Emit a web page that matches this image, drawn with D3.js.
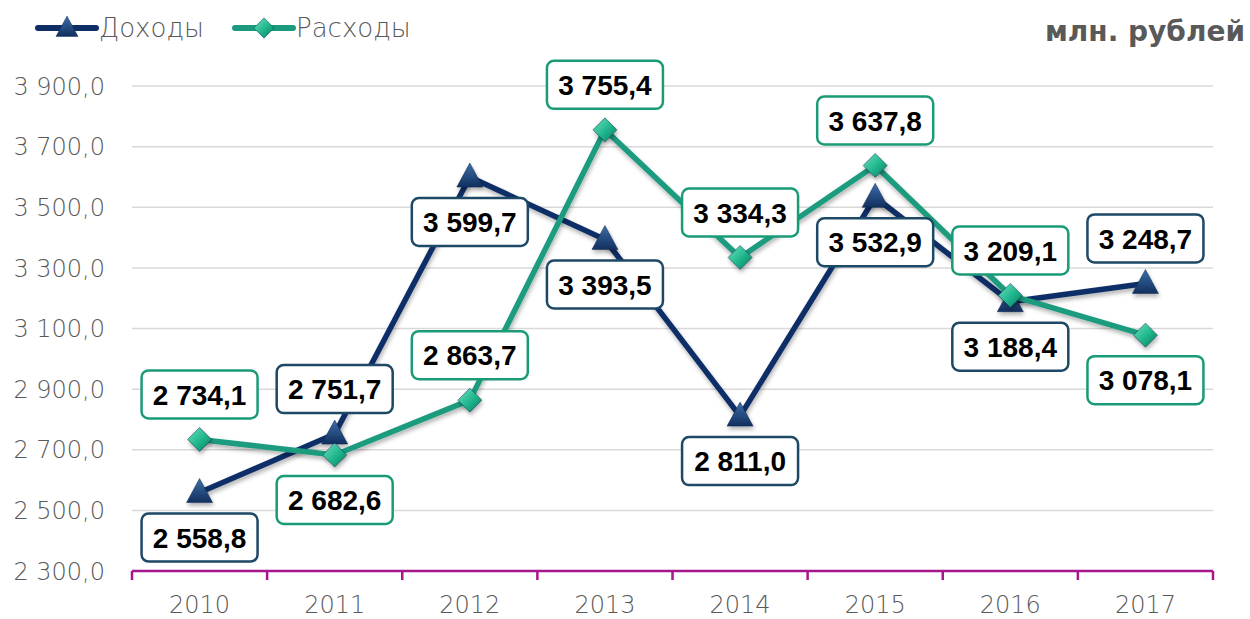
<!DOCTYPE html>
<html>
<head>
  <meta charset="utf-8">
  <title>Доходы и расходы</title>
  <style>
    body { margin: 0; background: #ffffff; }
    .tick-label { fill: #595959; font-family: "DejaVu Sans", sans-serif; font-size: 24px; font-weight: 300; }
    .legend text { fill: #595959; font-family: "DejaVu Sans", sans-serif; font-size: 26px; font-weight: 300; }
    .units { fill: #595959; font-family: "DejaVu Sans", sans-serif; font-size: 28px; font-weight: bold; }
    .lbl text { font-family: "Liberation Sans", Arial, sans-serif; font-size: 28px; font-weight: bold; fill: #000; }
  </style>
</head>
<body>
  <div id="chart"></div>
  <script src="https://d3js.org/d3.v7.min.js"></script>
  <script>
    // data
    var years = ["2010", "2011", "2012", "2013", "2014", "2015", "2016", "2017"]
    var incomes = [2558.8, 2751.7, 3599.7, 3393.5, 2811.0, 3532.9, 3188.4, 3248.7]
    var expenses = [2734.1, 2682.6, 2863.7, 3755.4, 3334.3, 3637.8, 3209.1, 3078.1]
    // label side: 1 = below point, -1 = above
    var incomeSide = [1, -1, 1, 1, 1, 1, 1, -1]
    var expenseSide = [-1, 1, -1, -1, -1, -1, -1, 1]
    var yTicks = [2300, 2500, 2700, 2900, 3100, 3300, 3500, 3700, 3900]

    var width = 1250, height = 619

    var svg = d3.select("#chart").append("svg")
      .attr("width", width)
      .attr("height", height)

    var locale = d3.formatLocale({ decimal: ",", thousands: "\u00a0", grouping: [3], currency: ["", ""] })
    var fmt = locale.format(",.1f")

    var x = d3.scaleBand().domain(years).range([132, 1213]).padding(0)
    var y = d3.scaleLinear().domain([2300, 3900]).range([571, 86])

    var defs = svg.append("defs")

    // marker gradients
    var g1 = defs.append("linearGradient").attr("id", "triGrad")
      .attr("x1", 0).attr("y1", 0).attr("x2", 0).attr("y2", 1)
    g1.append("stop").attr("offset", "0%").attr("stop-color", "#3d6ea8")
    g1.append("stop").attr("offset", "100%").attr("stop-color", "#112f5e")

    var g2 = defs.append("linearGradient").attr("id", "diaGrad")
      .attr("x1", 0).attr("y1", 0).attr("x2", 1).attr("y2", 1)
    g2.append("stop").attr("offset", "0%").attr("stop-color", "#6de3bd")
    g2.append("stop").attr("offset", "55%").attr("stop-color", "#1eb58c")
    g2.append("stop").attr("offset", "100%").attr("stop-color", "#0b7a5c")

    var shadow = defs.append("filter").attr("id", "shadow")
      .attr("x", "-20%").attr("y", "-20%").attr("width", "140%").attr("height", "160%")
    shadow.append("feDropShadow").attr("dx", 1).attr("dy", 3).attr("stdDeviation", 2)
      .attr("flood-color", "#000").attr("flood-opacity", 0.3)

    // gridlines
    svg.append("g").selectAll("line")
      .data(yTicks.slice(1))
      .enter().append("line")
      .attr("x1", 132).attr("x2", 1213)
      .attr("y1", function (d) { return y(d) })
      .attr("y2", function (d) { return y(d) })
      .attr("stroke", "#d9d9d9").attr("stroke-width", 1.5)

    // y labels
    svg.append("g").selectAll("text")
      .data(yTicks)
      .enter().append("text")
      .attr("class", "tick-label")
      .attr("x", 105)
      .attr("y", function (d) { return y(d) })
      .attr("dy", "0.36em")
      .attr("text-anchor", "end")
      .text(function (d) { return fmt(d) })

    // x axis
    var axisColor = "#a7168d"
    svg.append("line")
      .attr("x1", 132).attr("x2", 1213).attr("y1", y(2300)).attr("y2", y(2300))
      .attr("stroke", axisColor).attr("stroke-width", 2.5)

    var edges = years.map(function (d) { return x(d) }).concat([x.range()[1]])
    svg.append("g").selectAll("line")
      .data(edges)
      .enter().append("line")
      .attr("x1", function (d) { return d }).attr("x2", function (d) { return d })
      .attr("y1", y(2300)).attr("y2", y(2300) + 9)
      .attr("stroke", axisColor).attr("stroke-width", 2.5)

    svg.append("g").selectAll("text")
      .data(years)
      .enter().append("text")
      .attr("class", "tick-label")
      .attr("x", function (d) { return x(d) + x.bandwidth() / 2 })
      .attr("y", 613)
      .attr("text-anchor", "middle")
      .text(function (d) { return d })

    var cx = function (d, i) { return x(years[i]) + x.bandwidth() / 2 }

    var line = d3.line()
      .x(function (d, i) { return cx(d, i) })
      .y(function (d) { return y(d) })

    var triPath = "M0,-14L13,10L-13,10Z"
    var diaPath = "M0,-12L12,0L0,12L-12,0Z"

    function drawSeries(values, color, markerPath, fill) {
      svg.append("path")
        .datum(values)
        .attr("d", line)
        .attr("fill", "none")
        .attr("stroke", color)
        .attr("stroke-width", 5.5)
        .attr("stroke-linejoin", "round")
        .attr("filter", "url(#shadow)")

      svg.append("g").selectAll("path")
        .data(values)
        .enter().append("path")
        .attr("d", markerPath)
        .attr("transform", function (d, i) { return "translate(" + cx(d, i) + "," + y(d) + ")" })
        .attr("fill", fill)
        .attr("stroke", "#0b2a50")
        .attr("stroke-opacity", 0.5)
        .attr("stroke-width", 1)
        .attr("filter", "url(#shadow)")
    }

    drawSeries(incomes, "#0e2f66", triPath, "url(#triGrad)")
    drawSeries(expenses, "#1a9b7e", diaPath, "url(#diaGrad)")

    function drawLabels(values, side, border) {
      var lbl = svg.append("g").attr("class", "lbl").selectAll("g")
        .data(values)
        .enter().append("g")
        .attr("transform", function (d, i) {
          return "translate(" + cx(d, i) + "," + (y(d) + side[i] * 45) + ")"
        })
      lbl.append("rect")
        .attr("x", -58).attr("y", -24)
        .attr("width", 116).attr("height", 48)
        .attr("rx", 7)
        .attr("fill", "#fff")
        .attr("stroke", border)
        .attr("stroke-width", 2.5)
      lbl.append("text")
        .attr("text-anchor", "middle")
        .attr("dy", "0.36em")
        .text(function (d) { return fmt(d) })
    }

    drawLabels(incomes, incomeSide, "#1d4866")
    drawLabels(expenses, expenseSide, "#1a9b77")

    // legend
    var legend = svg.append("g").attr("class", "legend")
    var items = [
      { name: "Доходы", color: "#0e2f66", path: triPath, fill: "url(#triGrad)", x: 38 },
      { name: "Расходы", color: "#1a9b7e", path: diaPath, fill: "url(#diaGrad)", x: 235 }
    ]
    var li = legend.selectAll("g").data(items).enter().append("g")
      .attr("transform", function (d) { return "translate(" + d.x + ",28)" })
    li.append("line")
      .attr("x1", 0).attr("x2", 58)
      .attr("stroke", function (d) { return d.color })
      .attr("stroke-width", 6)
      .attr("stroke-linecap", "round")
    li.append("path")
      .attr("d", function (d) { return d.path })
      .attr("transform", "translate(29,0) scale(0.85)")
      .attr("fill", function (d) { return d.fill })
      .attr("stroke", "#0b2a50").attr("stroke-opacity", 0.5)
    li.append("text")
      .attr("x", 61)
      .attr("dy", "0.36em")
      .text(function (d) { return d.name })

    svg.append("text")
      .attr("class", "units")
      .attr("x", 1245)
      .attr("y", 41)
      .attr("text-anchor", "end")
      .text("млн. рублей")
  </script>
</body>
</html>
